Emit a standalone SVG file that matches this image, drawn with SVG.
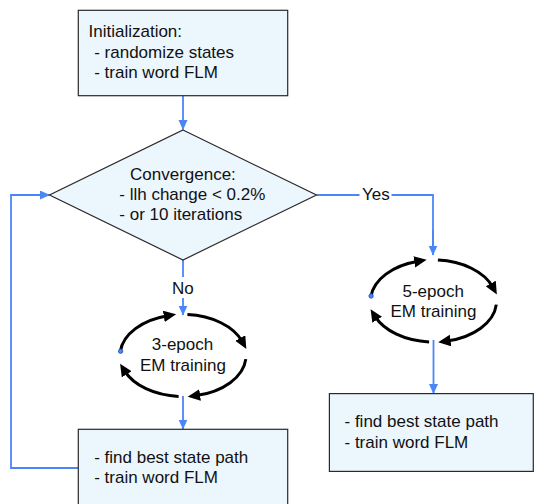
<svg xmlns="http://www.w3.org/2000/svg" width="534" height="504" viewBox="0 0 534 504">
<style>
.box{fill:#ecf6fd;stroke:#2a2a2a;stroke-width:1.2}
.t{font-family:"Liberation Sans",Arial,sans-serif;font-size:17px;fill:#111}
.c{text-anchor:middle}
.blue{fill:none;stroke:#4a86f8;stroke-width:1.8;marker-end:url(#ba)}
.plain{fill:none;stroke:#4a86f8;stroke-width:1.8}
.arc{fill:none;stroke:#000;stroke-width:3;marker-end:url(#ka)}
.dot{fill:#4a86f8;stroke:#1f4fb8;stroke-width:0.8}
.lbl{fill:#fff}
</style>
<defs>
<marker id="ba" markerUnits="userSpaceOnUse" markerWidth="10" markerHeight="10" refX="9.5" refY="4.5" orient="auto">
<path d="M0,0 L10,4.5 L0,9 z" fill="#4a86f8"/>
</marker>
<marker id="ka" markerUnits="userSpaceOnUse" markerWidth="13" markerHeight="12" refX="4" refY="5.75" orient="auto">
<path d="M0,0 L12.5,5.75 L0,11.5 z" fill="#000"/>
</marker>
</defs>

<g id="connectors">
<path class="blue" d="M183,96 V129.5"/>
<path class="plain" d="M316.5,195 H433 V252"/>
<path class="blue" d="M433,230 V255"/>
<rect class="lbl" x="359.5" y="185" width="32" height="20"/>
<text class="t c" x="375.8" y="200">Yes</text>
<path class="blue" d="M183,260 V315"/>
<rect class="lbl" x="170" y="277" width="26" height="21"/>
<text class="t c" x="182.8" y="293.7">No</text>
<path class="blue" d="M183,396 V429"/>
<path class="blue" d="M433.5,340 V393.5"/>
<path class="blue" d="M78,468 H11 V195 H49.5"/>
</g>

<g id="init">
<rect class="box" x="78.3" y="10.3" width="209.4" height="85.4"/>
<text class="t" x="88.5" y="37.3">Initialization:</text>
<text class="t" x="94.2" y="57.6">- randomize states</text>
<text class="t" x="94.2" y="78.2">- train word FLM</text>
</g>

<g id="convergence">
<path class="box" d="M183,130 L316.5,195 L183,260 L49.5,195 Z"/>
<text class="t" x="130" y="180">Convergence:</text>
<text class="t" x="119.3" y="200">- llh change &lt; 0.2%</text>
<text class="t" x="119.3" y="220">- or 10 iterations</text>
</g>

<g id="cycle3">
<path class="arc" d="M120.35,351.2 A63,41 0 0 1 167.76,315.72"/>
<path class="arc" d="M187.4,314.6 A63,41 0 0 1 242.2,341.5"/>
<path class="arc" d="M245.8,359.1 A63,41 0 0 1 196.1,395.6"/>
<path class="arc" d="M178.6,396.4 A63,41 0 0 1 124.6,370.9"/>
<circle class="dot" cx="120.6" cy="351.2" r="2.2"/>
<text class="t c" x="182.5" y="349.7">3-epoch</text>
<text class="t c" x="183" y="371">EM training</text>
</g>

<g id="cycle5">
<path class="arc" d="M370.85,296.7 A63,41 0 0 1 418.26,261.22"/>
<path class="arc" d="M437.9,260.1 A63,41 0 0 1 492.7,287"/>
<path class="arc" d="M496.3,304.6 A63,41 0 0 1 446.6,341.1"/>
<path class="arc" d="M429.1,341.9 A63,41 0 0 1 375.1,316.4"/>
<circle class="dot" cx="371.1" cy="296" r="2.2"/>
<text class="t c" x="433.2" y="297.3">5-epoch</text>
<text class="t c" x="433.5" y="317.3">EM training</text>
</g>

<g id="path3">
<rect class="box" x="78.3" y="429.3" width="209.4" height="80"/>
<text class="t" x="94.2" y="462.7">- find best state path</text>
<text class="t" x="94.2" y="483">- train word FLM</text>
</g>

<g id="path5">
<rect class="box" x="329.4" y="393.6" width="203.9" height="77.8"/>
<text class="t" x="344.5" y="427">- find best state path</text>
<text class="t" x="344.5" y="448">- train word FLM</text>
</g>
</svg>
